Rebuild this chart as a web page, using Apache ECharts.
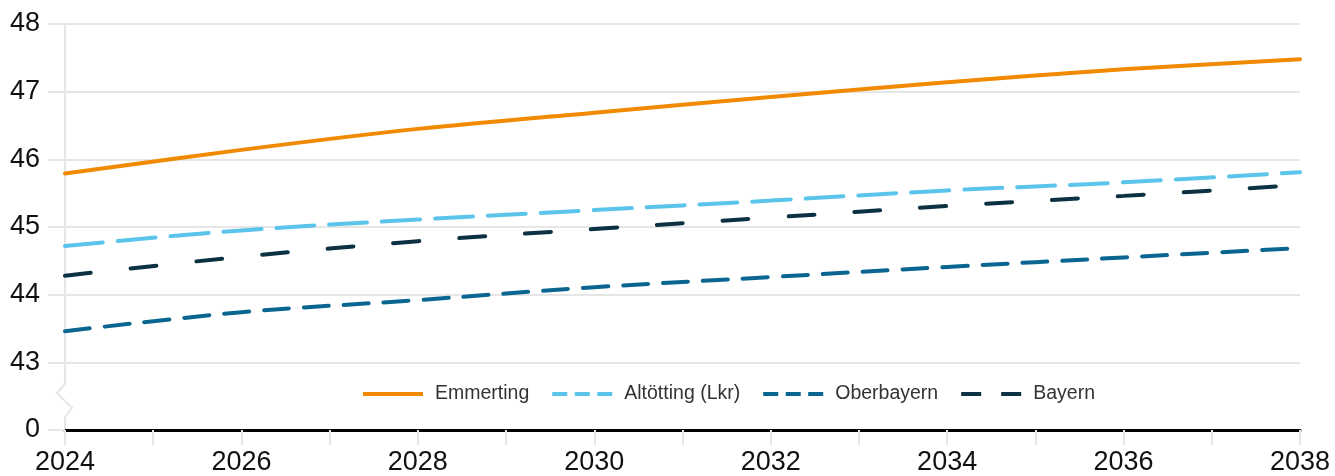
<!DOCTYPE html>
<html>
<head>
<meta charset="utf-8">
<script src="https://cdn.jsdelivr.net/npm/echarts@6/dist/echarts.min.js"></script>
<style>
html,body{margin:0;padding:0;background:#fff;}
#chart{width:1335px;height:476px;}
</style>
</head>
<body>
<div id="chart"></div>
<script>
// Data
const years = [2024, 2026, 2028, 2030, 2032, 2034, 2036, 2038];
const emmerting  = [45.79, 46.14, 46.45, 46.69, 46.92, 47.14, 47.33, 47.48];
const altoetting = [44.72, 44.95, 45.11, 45.25, 45.39, 45.54, 45.66, 45.81];
const oberbayern = [43.46, 43.74, 43.92, 44.11, 44.26, 44.41, 44.55, 44.69];
const bayern     = [44.28, 44.56, 44.79, 44.97, 45.14, 45.31, 45.46, 45.62];
const seriesNames = ['Emmerting', 'Altötting (Lkr)', 'Oberbayern', 'Bayern'];
const yTicks = [42, 43, 44, 45, 46, 47, 48];   // 42 is shown as the broken-axis "0"
const yTickLabels = ['0', '43', '44', '45', '46', '47', '48'];

const pairs = arr => years.map((y, i) => [y, arr[i]]);
const FONT = 'Liberation Sans';
const GRID = '#e6e6e6';

// legend icons (filled paths, 60 x 4)
const ICON_SOLID = 'path://M0,0h60v4h-60z';
const ICON_SHORT = 'path://M0,0h15v4h-15z M22.5,0h15v4h-15z M45,0h15v4h-15z';
const ICON_LONG  = 'path://M0,0h20v4h-20z M40,0h20v4h-20z';

const chart = echarts.init(document.getElementById('chart'), null, {renderer: 'canvas'});

function mkSeries(name, data, color, type) {
  return {
    name: name, type: 'line', data: pairs(data),
    smooth: 0.35, symbol: 'none', showSymbol: false, z: 3,
    lineStyle: {color: color, width: 4, type: type, cap: 'round'},
    itemStyle: {color: color}
  };
}

const option = {
  animation: false,
  backgroundColor: '#fff',
  grid: {left: 65, right: 35, top: 24, bottom: 45, containLabel: false},
  legend: {
    left: 363, top: 384, padding: 0,
    itemWidth: 60, itemHeight: 4, itemGap: 23,
    textStyle: {fontFamily: FONT, fontSize: 19.5, color: '#333', padding: [0, 0, 0, 7]},
    data: [
      {name: seriesNames[0], icon: ICON_SOLID},
      {name: seriesNames[1], icon: ICON_SHORT},
      {name: seriesNames[2], icon: ICON_SHORT},
      {name: seriesNames[3], icon: ICON_LONG}
    ]
  },
  xAxis: {
    type: 'value', min: 2024, max: 2038, interval: 1,
    axisLine: {show: true, lineStyle: {color: '#000', width: 3}},
    axisTick: {show: true, length: 15, lineStyle: {color: GRID, width: 2}},
    axisLabel: {
      margin: 19, fontFamily: FONT, fontSize: 27, color: '#111',
      formatter: v => (v % 2 === 0 ? String(v) : '')
    },
    splitLine: {show: false}
  },
  yAxis: {
    type: 'value', min: 42, max: 48, interval: 1,
    axisLine: {show: true, lineStyle: {color: GRID, width: 2}},
    axisTick: {show: true, length: 17, lineStyle: {color: GRID, width: 2}},
    axisLabel: {
      margin: 25, fontFamily: FONT, fontSize: 27, color: '#111',
      formatter: v => { const i = yTicks.indexOf(v); return i >= 0 ? yTickLabels[i] : ''; }
    },
    splitLine: {show: true, lineStyle: {color: GRID, width: 2}}
  },
  series: [
    mkSeries(seriesNames[0], emmerting, '#f18a00', 'solid'),
    mkSeries(seriesNames[1], altoetting, '#5bc4eb', [38, 15]),
    mkSeries(seriesNames[2], oberbayern, '#0a6590', [25, 15]),
    mkSeries(seriesNames[3], bayern, '#0b3142', [26, 40])
  ]
};
chart.setOption(option);

// zigzag marking the broken y-axis between 0 and 43
const ax = chart.convertToPixel({xAxisIndex: 0}, 2024);
const yTop = chart.convertToPixel({yAxisIndex: 0}, 42.67);
const yBot = chart.convertToPixel({yAxisIndex: 0}, 42.2);
const h = yBot - yTop;
chart.setOption({
  graphic: [
    {type: 'rect', z: 10, shape: {x: ax - 4, y: yTop, width: 8, height: h}, style: {fill: '#fff'}},
    {type: 'polyline', z: 11,
     shape: {points: [[ax, yTop - 1], [ax - 8, yTop + h * 0.27], [ax + 7, yTop + h * 0.72], [ax, yBot + 1]]},
     style: {stroke: GRID, lineWidth: 2, fill: null}}
  ]
});
</script>
</body>
</html>
